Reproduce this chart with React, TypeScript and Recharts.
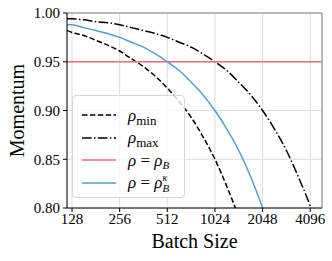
import React from 'react';
import { LineChart, Line, XAxis, YAxis, CartesianGrid, Legend, ReferenceLine } from 'recharts';

const batchSizes = [119, 128, 152, 181, 215, 256, 304, 362, 431, 512, 609, 724, 861, 1024, 1218, 1448, 1722, 2048, 2435, 2896, 3444, 4096, 4860];
const rhoMin = [0.982, 0.98, 0.977, 0.972, 0.967, 0.961, 0.953, 0.945, 0.935, 0.923, 0.909, 0.893, 0.873, 0.85, 0.822, 0.79, 0.75, null, null, null, null, null, null];
const rhoMax = [0.994, 0.994, 0.993, 0.991, 0.99, 0.988, 0.985, 0.982, 0.979, 0.975, 0.97, 0.965, 0.958, 0.95, 0.941, 0.929, 0.916, 0.9, 0.881, 0.859, 0.832, 0.802, 0.765];
const rhoKappa = [0.988, 0.988, 0.985, 0.982, 0.979, 0.975, 0.97, 0.965, 0.958, 0.95, 0.941, 0.929, 0.916, 0.9, 0.881, 0.859, 0.832, 0.8, 0.762, null, null, null, null];
const rhoB = [0.95, 0.95, 0.95, 0.95, 0.95, 0.95, 0.95, 0.95, 0.95, 0.95, 0.95, 0.95, 0.95, 0.95, 0.95, 0.95, 0.95, 0.95, 0.95, 0.95, 0.95, 0.95, 0.95];

const xTicks = [128, 256, 512, 1024, 2048, 4096];
const yTicks = [0.8, 0.85, 0.9, 0.95, 1.0];

const data = batchSizes.map((b, i) => ({
  batch: b,
  rhoMin: rhoMin[i],
  rhoMax: rhoMax[i],
  rhoB: rhoB[i],
  rhoKappa: rhoKappa[i],
}));

const FONT = '"Liberation Serif", "Times New Roman", serif';
const RED = '#ee6a78';
const BLUE = '#559ecf';

const rho = <span style={{ fontStyle: 'italic' }}>ρ</span>;
const subStyle = { fontSize: 13, verticalAlign: -4, lineHeight: 0 } as const;

const legendRows = [
  { key: 'min', dash: '5.5 2.4', color: '#000', label: <>{rho}<sub style={subStyle}>min</sub></> },
  { key: 'max', dash: '9.6 2.4 1.5 2.4', color: '#000', label: <>{rho}<sub style={subStyle}>max</sub></> },
  {
    key: 'b', dash: undefined, color: RED,
    label: <>{rho} = {rho}<sub style={{ fontSize: 11, fontStyle: 'italic', verticalAlign: -3, lineHeight: 0 }}>B</sub></>,
  },
  {
    key: 'k', dash: undefined, color: BLUE,
    label: (
      <>
        {rho} = {rho}
        <span style={{ display: 'inline-block', position: 'relative', width: 9, height: 10, fontSize: 10, fontStyle: 'italic', lineHeight: 1 }}>
          <span style={{ position: 'absolute', left: 0, top: -5 }}>κ</span>
          <span style={{ position: 'absolute', left: 0, top: 5, fontSize: 11 }}>B</span>
        </span>
      </>
    ),
  },
];

function LegendBox() {
  return (
    <div
      style={{
        boxSizing: 'border-box',
        width: 113,
        height: 103,
        border: '1px solid #d6d6d6',
        borderRadius: 4,
        background: 'rgba(255,255,255,0.8)',
        paddingTop: 8,
        fontFamily: FONT,
        fontSize: 17,
        color: '#000',
      }}
    >
      {legendRows.map((r) => (
        <div key={r.key} style={{ display: 'flex', alignItems: 'center', height: 22.5 }}>
          <svg width={34} height={4} style={{ marginLeft: 9, marginRight: 12 }}>
            <line x1={0} y1={2} x2={34} y2={2} stroke={r.color} strokeWidth={1.5} strokeDasharray={r.dash} />
          </svg>
          <span style={{ whiteSpace: 'nowrap', lineHeight: 1 }}>{r.label}</span>
        </div>
      ))}
    </div>
  );
}

export default function App() {
  return (
    <div style={{ position: 'absolute', left: 0, top: 0, background: '#fff' }}>
      <LineChart width={332} height={261} data={data} margin={{ top: 13, right: 10, left: 0, bottom: 0 }}>
        <CartesianGrid stroke="#dcdcdc" strokeWidth={1} />
        <XAxis
          dataKey="batch"
          type="number"
          scale="log"
          domain={[119, 4860]}
          allowDataOverflow
          ticks={xTicks}
          height={53}
          tickSize={4}
          tickMargin={1}
          stroke="#000"
          tick={{ fill: '#000', fontSize: 15, fontFamily: FONT }}
          label={({ viewBox }: any) => (
            <text x={viewBox.x + viewBox.width / 2} y={248} textAnchor="middle" fontSize={20} fontFamily={FONT} fill="#000">
              Batch Size
            </text>
          )}
        />
        <YAxis
          type="number"
          domain={[0.8, 1.0]}
          allowDataOverflow
          ticks={yTicks}
          width={67}
          tickSize={4}
          tickMargin={3}
          stroke="#000"
          tickFormatter={(v: number) => v.toFixed(2)}
          tick={{ fill: '#000', fontSize: 15, fontFamily: FONT }}
          label={({ viewBox }: any) => (
            <text
              x={17}
              y={viewBox.y + viewBox.height / 2}
              transform={`rotate(-90 17 ${viewBox.y + viewBox.height / 2})`}
              textAnchor="middle"
              dominantBaseline="central"
              fontSize={20}
              fontFamily={FONT}
              fill="#000"
            >
              Momentum
            </text>
          )}
        />
        <ReferenceLine y={1.0} stroke="#888" strokeWidth={1} />
        <ReferenceLine x={4860} stroke="#888" strokeWidth={1} />
        <Line dataKey="rhoMin" name="ρmin" type="monotone" stroke="#000" strokeWidth={1.5} strokeDasharray="5.5 2.4" dot={false} isAnimationActive={false} />
        <Line dataKey="rhoMax" name="ρmax" type="monotone" stroke="#000" strokeWidth={1.5} strokeDasharray="9.6 2.4 1.5 2.4" dot={false} isAnimationActive={false} />
        <Line dataKey="rhoB" name="ρ = ρB" type="monotone" stroke={RED} strokeWidth={1.5} dot={false} isAnimationActive={false} />
        <Line dataKey="rhoKappa" name="ρ = ρBκ" type="monotone" stroke={BLUE} strokeWidth={1.5} dot={false} isAnimationActive={false} />
        <Legend
          layout="vertical"
          align="center"
          verticalAlign="middle"
          content={() => <LegendBox />}
          wrapperStyle={{ left: 72, top: 95, width: 113, height: 103 }}
        />
      </LineChart>
    </div>
  );
}
